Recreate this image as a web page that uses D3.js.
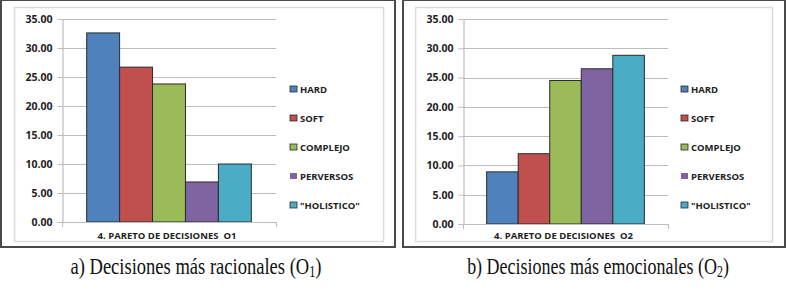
<!DOCTYPE html>
<html>
<head>
<meta charset="utf-8">
<script src="https://cdn.jsdelivr.net/npm/d3@7"></script>
<style>
  body { margin: 0; background: #fff; }
  svg { display: block; }
</style>
</head>
<body>
<svg id="chart" width="786" height="290"></svg>
<script>
const seriesNames = ["HARD", "SOFT", "COMPLEJO", "PERVERSOS", "\"HOLISTICO\""];
const seriesColors = ["#4f81bd", "#c0504d", "#9bbb59", "#8064a2", "#4bacc6"];
const valuesO1 = [32.6, 26.7, 23.8, 6.9, 10.0];
const valuesO2 = [8.9, 12.0, 24.5, 26.5, 28.8];
const categoryLabels = ["4. PARETO DE DECISIONES  O1", "4. PARETO DE DECISIONES  O2"];
const captions = [
  ["a) Decisiones más racionales (O", "1", ")"],
  ["b) Decisiones más emocionales (O", "2", ")"]
];
const yTicks = [0, 5, 10, 15, 20, 25, 30, 35];

const svg = d3.select("#chart");
const labelFont = "Open Sans, sans-serif";

const panels = [
  { values: valuesO1, label: categoryLabels[0], caption: captions[0],
    outer: [1, 0, 395, 247], inner: [14, 7, 383, 241],
    x0: 62, x1: 276, yTop: 19, yBottom: 222, legendX: 290, captionX: 196, captionSx: 1.03 },
  { values: valuesO2, label: categoryLabels[1], caption: captions[1],
    outer: [403, 0, 785, 247], inner: [415, 7, 772, 241],
    x0: 463, x1: 668, yTop: 19, yBottom: 224, legendX: 681, captionX: 598, captionSx: 1.0 }
];

panels.forEach(drawPanel);

function drawPanel(p) {
  const g = svg.append("g");

  // frames
  g.append("rect")
    .attr("x", p.outer[0]).attr("y", p.outer[1])
    .attr("width", p.outer[2] - p.outer[0]).attr("height", p.outer[3] - p.outer[1])
    .attr("fill", "none").attr("stroke", "#4a4a4a").attr("stroke-width", 2);
  g.append("rect")
    .attr("x", p.inner[0] + 0.5).attr("y", p.inner[1] + 0.5)
    .attr("width", p.inner[2] - p.inner[0]).attr("height", p.inner[3] - p.inner[1])
    .attr("fill", "none").attr("stroke", "#dcdcdc").attr("stroke-width", 1.5);

  const y = d3.scaleLinear().domain([0, 35]).range([p.yBottom, p.yTop]);
  const barW = (p.x1 - p.x0) / 6.5;
  const gap = (p.x1 - p.x0 - barW * 5) / 2;
  const x = d3.scaleBand().domain(seriesNames)
    .range([p.x0 + gap, p.x1 - gap]).padding(0);

  // grid
  g.append("g")
    .selectAll("line")
    .data(yTicks.filter(d => d > 0))
    .join("line")
    .attr("x1", p.x0).attr("x2", p.x1)
    .attr("y1", d => Math.round(y(d)) + 0.5).attr("y2", d => Math.round(y(d)) + 0.5)
    .attr("stroke", "#bdbdbd").attr("stroke-width", 1.2);

  // y axis
  const yAxis = g.append("g")
    .attr("transform", `translate(${p.x0 + 0.5},0)`)
    .call(d3.axisLeft(y).tickValues(yTicks).tickFormat(d3.format(".2f")).tickSize(5).tickPadding(5));
  yAxis.select(".domain").attr("stroke", "#bdbdbd").attr("stroke-width", 1.2);
  yAxis.selectAll(".tick line").attr("stroke", "#bdbdbd");
  yAxis.selectAll("text")
    .attr("font-family", labelFont).attr("font-weight", "bold")
    .attr("font-size", 10.5).attr("fill", "#222");

  // bars
  g.append("g")
    .selectAll("rect")
    .data(p.values)
    .join("rect")
    .attr("x", (d, i) => x(seriesNames[i]))
    .attr("y", d => y(d))
    .attr("width", x.bandwidth())
    .attr("height", d => p.yBottom - y(d))
    .attr("fill", (d, i) => seriesColors[i])
    .attr("stroke", "#2b2b2b").attr("stroke-width", 1);

  // x axis line
  g.append("line")
    .attr("x1", p.x0).attr("x2", p.x1)
    .attr("y1", p.yBottom + 0.5).attr("y2", p.yBottom + 0.5)
    .attr("stroke", "#bdbdbd").attr("stroke-width", 1.2);
  g.selectAll(".xtick")
    .data([p.x0, p.x1])
    .join("line")
    .attr("x1", d => d + 0.5).attr("x2", d => d + 0.5)
    .attr("y1", p.yBottom).attr("y2", p.yBottom + 5)
    .attr("stroke", "#bdbdbd");

  g.append("text")
    .attr("x", (p.x0 + p.x1) / 2 - 2).attr("y", 239)
    .attr("text-anchor", "middle")
    .attr("font-family", labelFont).attr("font-weight", "bold")
    .attr("font-size", 9.5).attr("fill", "#222")
    .attr("xml:space", "preserve")
    .text(p.label);

  // legend
  const legend = g.append("g")
    .selectAll("g")
    .data(seriesNames)
    .join("g")
    .attr("transform", (d, i) => `translate(${p.legendX},${89 + i * 29})`);
  legend.append("rect")
    .attr("x", 0).attr("y", -3).attr("width", 7).attr("height", 6)
    .attr("fill", (d, i) => seriesColors[i])
    .attr("stroke", (d, i) => i === 3 ? "none" : "#2b2b2b").attr("stroke-width", 0.8);
  legend.append("text")
    .attr("x", 10).attr("y", 0)
    .attr("dominant-baseline", "central")
    .attr("font-family", labelFont).attr("font-weight", "bold")
    .attr("font-size", 9.5).attr("fill", "#222")
    .text(d => d);

  // caption
  const cap = svg.append("text")
    .attr("transform", `translate(${p.captionX},274) scale(${p.captionSx},1.32)`)
    .attr("text-anchor", "middle")
    .attr("font-family", "Liberation Serif, serif")
    .attr("font-size", 18).attr("fill", "#111");
  cap.append("tspan").text(p.caption[0]);
  cap.append("tspan").attr("font-size", 12).attr("dy", 2.5).text(p.caption[1]);
  cap.append("tspan").attr("dy", -2.5).text(p.caption[2]);
}
</script>
</body>
</html>
